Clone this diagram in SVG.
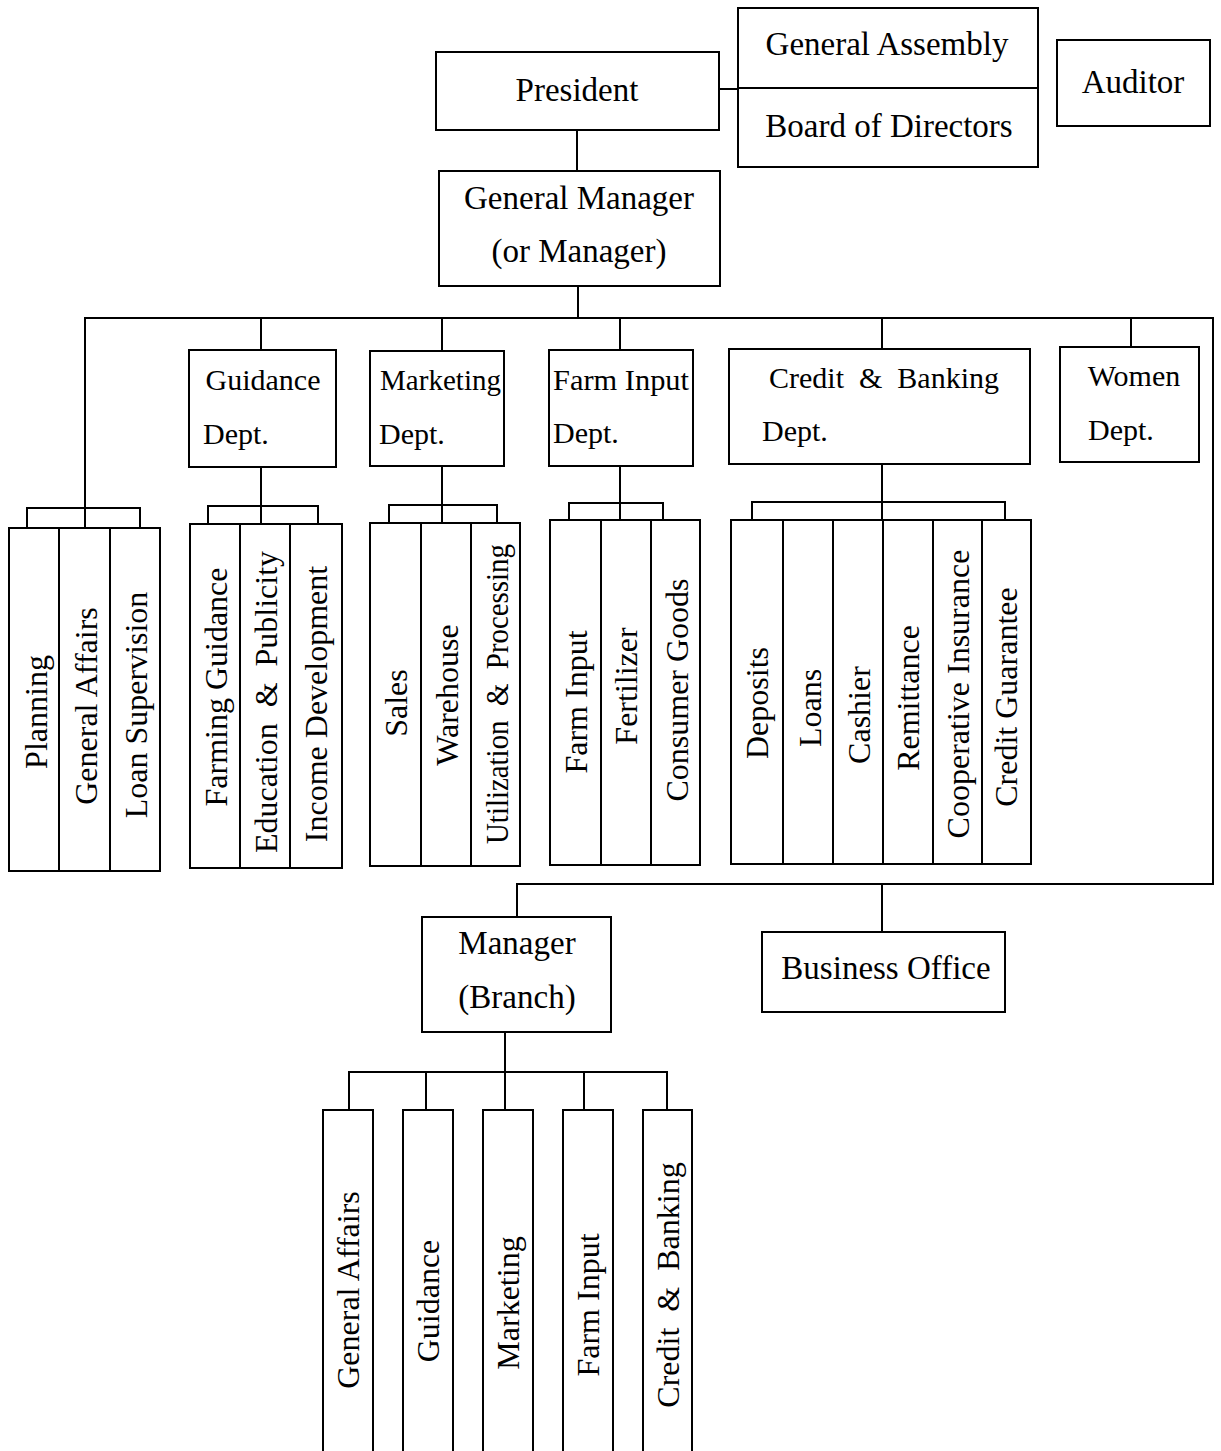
<svg xmlns="http://www.w3.org/2000/svg" width="1221" height="1451" viewBox="0 0 1221 1451">
  <style>
    .box { fill: #fff; stroke: #000; stroke-width: 2; }
    .ln { fill: none; stroke: #000; stroke-width: 2; }
    text { font-family: "Liberation Serif", "Times New Roman", serif; fill: #000; }
    .t { font-size: 33px; }
    .d { font-size: 30px; }
    .v { font-size: 32px; text-anchor: middle; dominant-baseline: central; }
    .c { text-anchor: middle; }
  </style>
  <rect width="1221" height="1451" fill="#fff"/>

  <!-- connectors -->
  <g id="connectors" class="ln">
    <!-- president to assembly / board -->
    <line x1="719" y1="89" x2="738" y2="89"/>
    <!-- president to general manager -->
    <line x1="577" y1="130" x2="577" y2="171"/>
    <!-- general manager to main bus -->
    <line x1="578" y1="286" x2="578" y2="318"/>
    <!-- main bus loop -->
    <polyline points="85,528 85,318 1213,318 1213,884 517,884 517,917"/>
    <line x1="882" y1="884" x2="882" y2="932"/>
    <!-- drops to departments -->
    <line x1="261" y1="318" x2="261" y2="350"/>
    <line x1="442" y1="318" x2="442" y2="351"/>
    <line x1="620" y1="318" x2="620" y2="350"/>
    <line x1="882" y1="318" x2="882" y2="349"/>
    <line x1="1131" y1="318" x2="1131" y2="347"/>
    <!-- department to section groups -->
    <line x1="261" y1="467" x2="261" y2="524"/>
    <line x1="442" y1="466" x2="442" y2="523"/>
    <line x1="620" y1="466" x2="620" y2="520"/>
    <line x1="882" y1="464" x2="882" y2="520"/>
    <!-- brackets over section groups -->
    <polyline points="27,528 27,508 140,508 140,528"/>
    <polyline points="208,524 208,506 318,506 318,524"/>
    <polyline points="389,523 389,505 497,505 497,523"/>
    <polyline points="569,520 569,503 663,503 663,520"/>
    <polyline points="752,520 752,502 1005,502 1005,520"/>
    <!-- branch manager to branch sections -->
    <line x1="505" y1="1032" x2="505" y2="1072"/>
    <polyline points="349,1110 349,1072 667,1072 667,1110"/>
    <line x1="426" y1="1072" x2="426" y2="1110"/>
    <line x1="505" y1="1072" x2="505" y2="1110"/>
    <line x1="584" y1="1072" x2="584" y2="1110"/>
  </g>

  <!-- top level -->
  <g id="president">
    <rect class="box" x="436" y="52" width="283" height="78"/>
    <text class="t c" x="577" y="101">President</text>
  </g>
  <g id="assembly-board">
    <rect class="box" x="738" y="8" width="300" height="159"/>
    <line class="ln" x1="738" y1="88" x2="1038" y2="88"/>
    <text class="t c" x="887" y="55">General Assembly</text>
    <text class="t c" x="889" y="137">Board of Directors</text>
  </g>
  <g id="auditor">
    <rect class="box" x="1057" y="40" width="153" height="86"/>
    <text class="t c" x="1133" y="93">Auditor</text>
  </g>
  <g id="general-manager">
    <rect class="box" x="439" y="171" width="281" height="115"/>
    <text class="t c" x="579" y="209">General Manager</text>
    <text class="t c" x="579" y="262">(or Manager)</text>
  </g>

  <!-- departments -->
  <g id="dept-guidance">
    <rect class="box" x="189" y="350" width="147" height="117"/>
    <text class="d c" x="263" y="390">Guidance</text>
    <text class="d" x="203" y="444">Dept.</text>
  </g>
  <g id="dept-marketing">
    <rect class="box" x="370" y="351" width="134" height="115"/>
    <text class="d" x="380" y="390" textLength="121" lengthAdjust="spacingAndGlyphs">Marketing</text>
    <text class="d" x="379" y="444">Dept.</text>
  </g>
  <g id="dept-farm-input">
    <rect class="box" x="549" y="350" width="144" height="116"/>
    <text class="d" x="553" y="390" textLength="136" lengthAdjust="spacingAndGlyphs">Farm Input</text>
    <text class="d" x="553" y="443">Dept.</text>
  </g>
  <g id="dept-credit">
    <rect class="box" x="729" y="349" width="301" height="115"/>
    <text class="d" x="769" y="388" xml:space="preserve">Credit  &amp;  Banking</text>
    <text class="d" x="762" y="441">Dept.</text>
  </g>
  <g id="dept-women">
    <rect class="box" x="1060" y="347" width="139" height="115"/>
    <text class="d c" x="1134" y="386">Women</text>
    <text class="d" x="1088" y="440">Dept.</text>
  </g>

  <!-- head office sections -->
  <g id="sections-admin">
    <rect class="box" x="9" y="528" width="151" height="343"/>
    <line class="ln" x1="59" y1="528" x2="59" y2="871"/>
    <line class="ln" x1="110" y1="528" x2="110" y2="871"/>
    <text class="v" transform="translate(36,712) rotate(-90)">Planning</text>
    <text class="v" transform="translate(86,706) rotate(-90)">General Affairs</text>
    <text class="v" transform="translate(136,705) rotate(-90)">Loan Supervision</text>
  </g>
  <g id="sections-guidance">
    <rect class="box" x="190" y="524" width="152" height="344"/>
    <line class="ln" x1="240" y1="524" x2="240" y2="868"/>
    <line class="ln" x1="290" y1="524" x2="290" y2="868"/>
    <text class="v" transform="translate(216,687) rotate(-90)">Farming Guidance</text>
    <text class="v" transform="translate(266,702) rotate(-90)" xml:space="preserve">Education  &amp;  Publicity</text>
    <text class="v" transform="translate(316,704) rotate(-90)">Income Development</text>
  </g>
  <g id="sections-marketing">
    <rect class="box" x="370" y="523" width="150" height="343"/>
    <line class="ln" x1="421" y1="523" x2="421" y2="866"/>
    <line class="ln" x1="471" y1="523" x2="471" y2="866"/>
    <text class="v" transform="translate(396,703) rotate(-90)">Sales</text>
    <text class="v" transform="translate(447,695) rotate(-90)">Warehouse</text>
    <text class="v" transform="translate(497,694) rotate(-90)" xml:space="preserve" textLength="300" lengthAdjust="spacingAndGlyphs">Utilization  &amp;  Processing</text>
  </g>
  <g id="sections-farm-input">
    <rect class="box" x="550" y="520" width="150" height="345"/>
    <line class="ln" x1="601" y1="520" x2="601" y2="865"/>
    <line class="ln" x1="651" y1="520" x2="651" y2="865"/>
    <text class="v" transform="translate(576,702) rotate(-90)">Farm Input</text>
    <text class="v" transform="translate(626,686) rotate(-90)">Fertilizer</text>
    <text class="v" transform="translate(677,690) rotate(-90)">Consumer Goods</text>
  </g>
  <g id="sections-credit">
    <rect class="box" x="731" y="520" width="300" height="344"/>
    <line class="ln" x1="783" y1="520" x2="783" y2="864"/>
    <line class="ln" x1="833" y1="520" x2="833" y2="864"/>
    <line class="ln" x1="883" y1="520" x2="883" y2="864"/>
    <line class="ln" x1="933" y1="520" x2="933" y2="864"/>
    <line class="ln" x1="982" y1="520" x2="982" y2="864"/>
    <text class="v" transform="translate(757,703) rotate(-90)">Deposits</text>
    <text class="v" transform="translate(810,708) rotate(-90)">Loans</text>
    <text class="v" transform="translate(859,715) rotate(-90)">Cashier</text>
    <text class="v" transform="translate(908,698) rotate(-90)">Remittance</text>
    <text class="v" transform="translate(958,694) rotate(-90)">Cooperative Insurance</text>
    <text class="v" transform="translate(1006,697) rotate(-90)">Credit Guarantee</text>
  </g>

  <!-- branch level -->
  <g id="manager-branch">
    <rect class="box" x="422" y="917" width="189" height="115"/>
    <text class="t c" x="517" y="954">Manager</text>
    <text class="t c" x="517" y="1008">(Branch)</text>
  </g>
  <g id="business-office">
    <rect class="box" x="762" y="932" width="243" height="80"/>
    <text class="t c" x="886" y="979">Business Office</text>
  </g>

  <g id="branch-sections">
    <rect class="box" x="323" y="1110" width="50" height="350"/>
    <rect class="box" x="403" y="1110" width="50" height="350"/>
    <rect class="box" x="483" y="1110" width="50" height="350"/>
    <rect class="box" x="563" y="1110" width="50" height="350"/>
    <rect class="box" x="643" y="1110" width="49" height="350"/>
    <text class="v" transform="translate(348,1290) rotate(-90)">General Affairs</text>
    <text class="v" transform="translate(428,1301) rotate(-90)">Guidance</text>
    <text class="v" transform="translate(508,1303) rotate(-90)">Marketing</text>
    <text class="v" transform="translate(588,1305) rotate(-90)">Farm Input</text>
    <text class="v" transform="translate(668,1285) rotate(-90)" xml:space="preserve">Credit  &amp;  Banking</text>
  </g>
</svg>
